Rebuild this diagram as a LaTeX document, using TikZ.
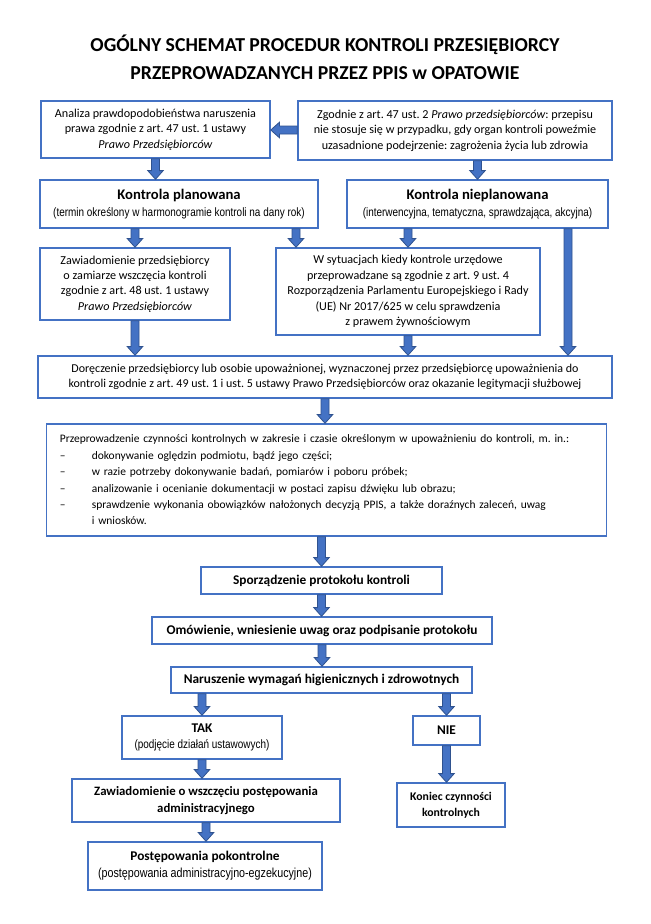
\documentclass[tikz,border=0pt]{standalone}
\usepackage{fontspec}
\setmainfont{Carlito}
\newfontfamily\narrowfont[FakeStretch=0.82]{Liberation Sans}
\usetikzlibrary{calc}
\AtBeginDocument{\frenchspacing}
\definecolor{boxblue}{HTML}{4472C4}
\definecolor{arrowfill}{HTML}{4472C4}
\definecolor{arrowline}{HTML}{2F528F}
\newcommand\bodyfont{\fontsize{9.1}{11.6}\selectfont}
\newcommand\nar{\narrowfont\fontsize{9.1}{10.5}\selectfont}
\newcommand\narO{\narrowfont\fontsize{9.8}{11}\selectfont}
\newcommand\boldfont{\fontsize{10}{12}\selectfont\bfseries}
\tikzset{
  box/.style={draw=boxblue, line width=1.1pt, fill=white, align=center, inner sep=0pt, font=\bodyfont},
  boldbox/.style={box, font=\boldfont},
  blockarrow/.style={fill=arrowfill, draw=arrowline, line width=0.6pt},
  titletext/.style={font=\bfseries\fontsize{14.8}{17}\selectfont}
}
\newcommand\bx[7][]{\node[box,minimum width={(#5-#3)*0.75pt},minimum height={(#6-#4)*0.75pt},#1] (#2) at ({(#3+#5)/2},{(#4+#6)/2}) {#7};}
\newcommand\dnArrow[2]{\filldraw[blockarrow] let \p1=#1, \p2=#2 in (\x2-3pt,\y1) -- (\x2+3pt,\y1) -- (\x2+3pt,\y2+6.5pt) -- (\x2+5.8pt,\y2+6.5pt) -- (\x2,\y2) -- (\x2-5.8pt,\y2+6.5pt) -- (\x2-3pt,\y2+6.5pt) -- cycle;}
\newcommand\ltArrow[2]{\filldraw[blockarrow] let \p1=#1, \p2=#2 in (\x1,\y2-3pt) -- (\x1,\y2+3pt) -- (\x2+6.5pt,\y2+3pt) -- (\x2+6.5pt,\y2+5.8pt) -- (\x2,\y2) -- (\x2+6.5pt,\y2-5.8pt) -- (\x2+6.5pt,\y2-3pt) -- cycle;}
\begin{document}
\begin{tikzpicture}[x=0.75pt,y=-0.75pt]
\useasboundingbox[fill=white] (0,0) rectangle (650,924);
\node[titletext] (t1) at (325,45) {OGÓLNY SCHEMAT PROCEDUR KONTROLI PRZESIĘBIORCY};
\node[titletext] (t2) at (325,73) {PRZEPROWADZANYCH PRZEZ PPIS w OPATOWIE};

\bx{A}{41}{101}{270}{158}{Analiza prawdopodobieństwa naruszenia\\prawa zgodnie z art. 47 ust. 1 ustawy\\\textit{Prawo Przedsiębiorców}}
\bx{B}{298}{101}{612}{160}{Zgodnie z art. 47 ust. 2 \textit{Prawo przedsiębiorców}: przepisu\\nie stosuje się w przypadku, gdy organ kontroli poweźmie\\uzasadnione podejrzenie: zagrożenia życia lub zdrowia}
\bx{C}{40}{180}{318}{228}{{\fontsize{11}{13}\selectfont\bfseries Kontrola planowana}\\[1pt]{\nar (termin określony w harmonogramie kontroli na dany rok)}}
\bx{D}{347}{180}{608}{228}{{\fontsize{11}{13}\selectfont\bfseries Kontrola nieplanowana}\\[1pt]{\nar (interwencyjna, tematyczna, sprawdzająca, akcyjna)}}
\bx{E}{40}{248}{230}{320}{Zawiadomienie przedsiębiorcy\\o zamiarze wszczęcia kontroli\\zgodnie z art. 48 ust. 1 ustawy\\\textit{Prawo Przedsiębiorców}}
\bx{F}{276}{248}{540}{335}{W sytuacjach kiedy kontrole urzędowe\\przeprowadzane są zgodnie z art. 9 ust. 4\\Rozporządzenia Parlamentu Europejskiego i Rady\\(UE) Nr 2017/625 w celu sprawdzenia\\z prawem żywnościowym}
\bx[font=\fontsize{9}{11.6}\selectfont]{G}{38}{356}{612}{398}{Doręczenie przedsiębiorcy lub osobie upoważnionej, wyznaczonej przez przedsiębiorcę upoważnienia do\\kontroli zgodnie z art. 49 ust. 1 i ust. 5 ustawy Prawo Przedsiębiorców oraz okazanie legitymacji służbowej}
\bx[align=left,text width=400pt,inner xsep=10pt,font=\fontsize{8.6}{12.3}\selectfont]{H}{47}{424}{606}{536}{Przeprowadzenie czynności kontrolnych w zakresie i czasie określonym w upoważnieniu do kontroli, m. in.:\\
\makebox[24pt][l]{–}dokonywanie oględzin podmiotu, bądź jego części;\\
\makebox[24pt][l]{–}w razie potrzeby dokonywanie badań, pomiarów i poboru próbek;\\
\makebox[24pt][l]{–}analizowanie i ocenianie dokumentacji w postaci zapisu dźwięku lub obrazu;\\
\makebox[24pt][l]{–}sprawdzenie wykonania obowiązków nałożonych decyzją PPIS, a także doraźnych zaleceń, uwag\\
\hspace*{24pt}i wniosków.}
\bx[boldbox]{I}{201}{567}{442}{594}{Sporządzenie protokołu kontroli}
\bx[boldbox]{J}{152}{617}{492}{644}{Omówienie, wniesienie uwag oraz podpisanie protokołu}
\bx[boldbox]{K}{171}{667}{472}{693}{Naruszenie wymagań higienicznych i zdrowotnych}
\bx{L}{122}{716}{282}{759}{{\boldfont TAK}\\[1pt]{\nar (podjęcie działań ustawowych)}}
\bx[boldbox]{M}{413}{716}{480}{745}{NIE}
\bx[boldbox,font=\fontsize{9.6}{12.3}\selectfont\bfseries]{N}{72}{779}{340}{822}{Zawiadomienie o wszczęciu postępowania\\administracyjnego}
\bx{O}{88}{842}{322}{890}{{\boldfont Postępowania pokontrolne}\\[1pt]{\narO (postępowania administracyjno-egzekucyjne)}}
\bx[font=\fontsize{8.8}{11.8}\selectfont\bfseries]{P}{397}{783}{505}{827}{Koniec czynności\\kontrolnych}

\coordinate (ab) at (0,130);
\coordinate (cf) at (296,0);
\coordinate (dg) at (568,0);

\ltArrow{(B.west |- ab)}{(A.east |- ab)}
\dnArrow{(A.south)}{(C.north -| A.south)}
\dnArrow{(B.south -| D.north)}{(D.north)}
\dnArrow{(C.south -| E.north)}{(E.north)}
\dnArrow{(C.south -| cf)}{(F.north -| cf)}
\dnArrow{(D.south -| F.north)}{(F.north)}
\dnArrow{(D.south -| dg)}{(G.north -| dg)}
\dnArrow{(E.south)}{(G.north -| E.south)}
\dnArrow{(F.south)}{(G.north -| F.south)}
\dnArrow{(G.south)}{(H.north -| G.south)}
\dnArrow{(H.south -| I.north)}{(I.north)}
\dnArrow{(I.south)}{(J.north -| I.south)}
\dnArrow{(J.south)}{(K.north -| J.south)}
\dnArrow{(K.south -| L.north)}{(L.north)}
\dnArrow{(K.south -| M.north)}{(M.north)}
\dnArrow{(L.south)}{(N.north -| L.south)}
\dnArrow{(N.south)}{(O.north -| N.south)}
\dnArrow{(M.south)}{(P.north -| M.south)}
\end{tikzpicture}
\end{document}
